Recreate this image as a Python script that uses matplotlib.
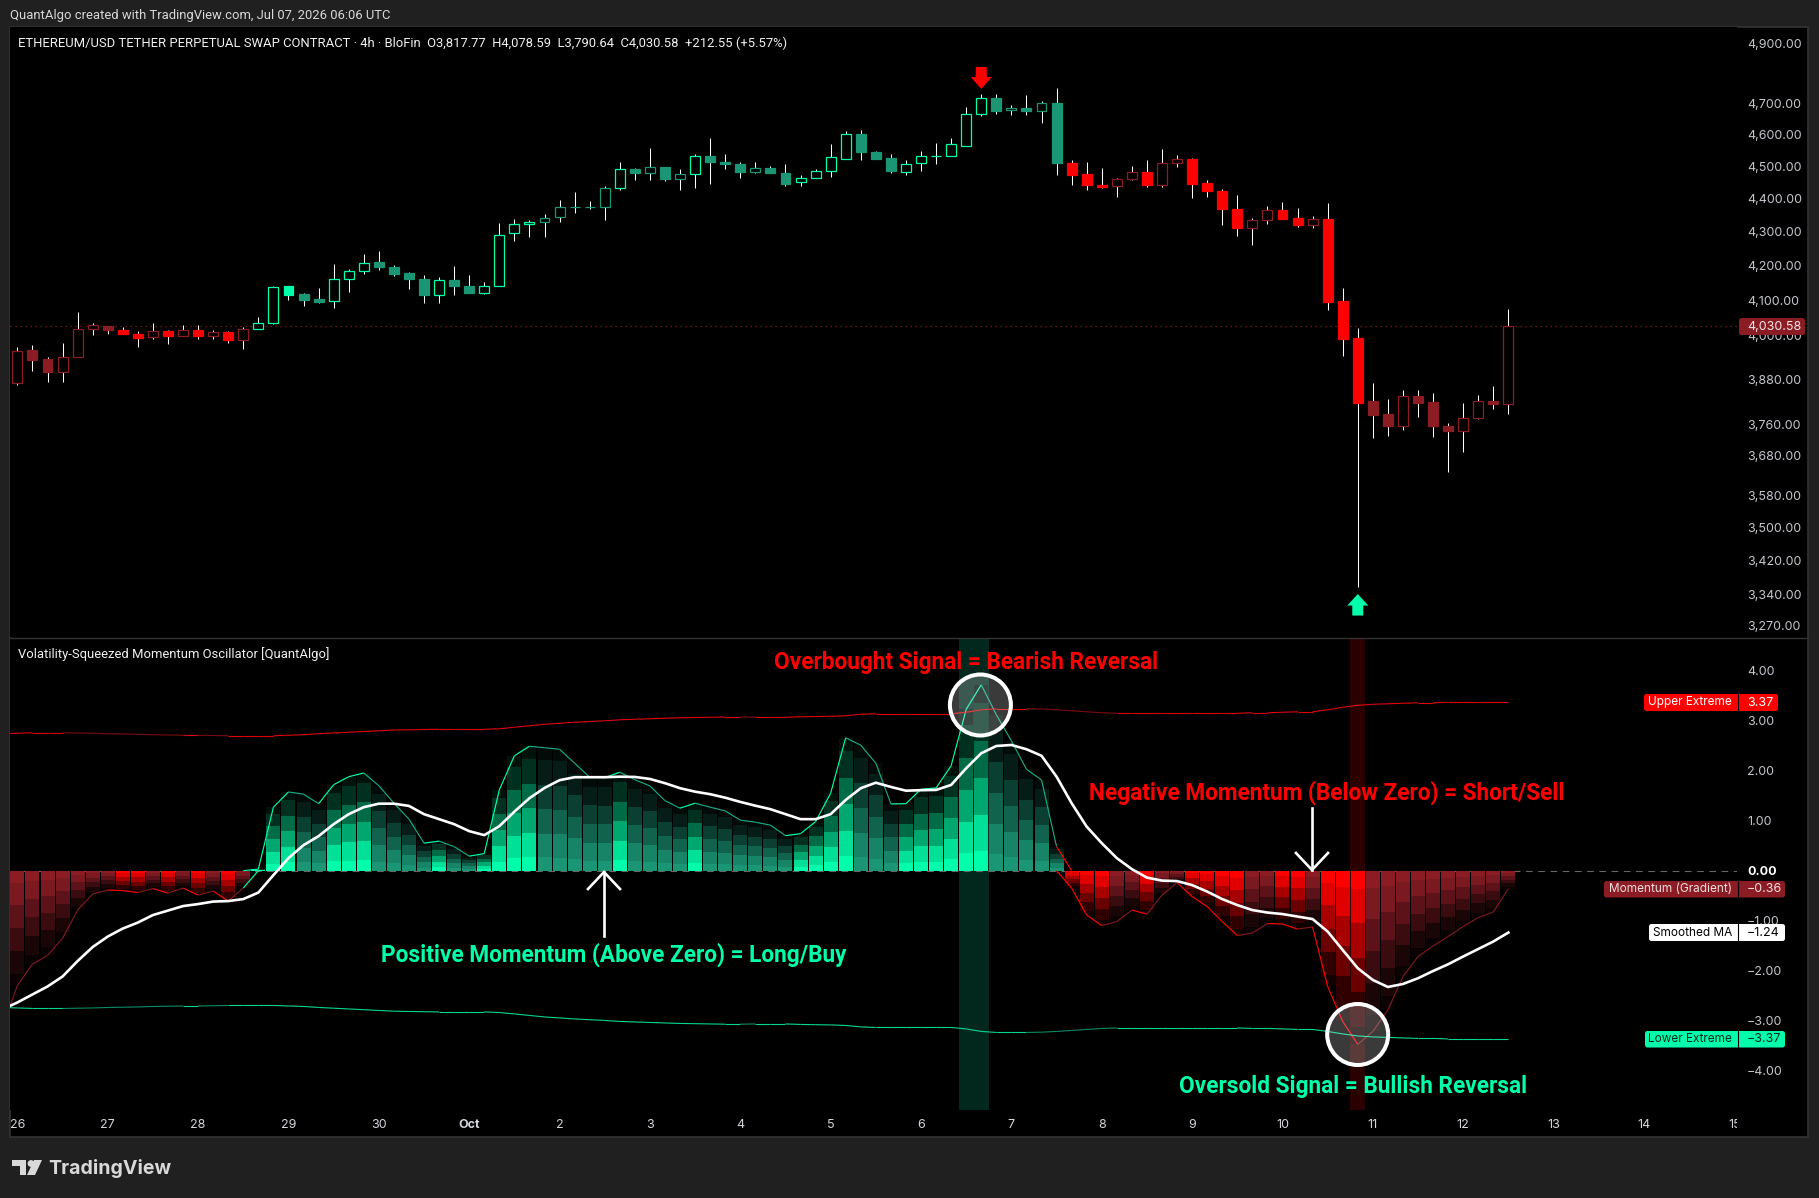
import numpy as np
import matplotlib
matplotlib.use("Agg")
import matplotlib.pyplot as plt
from matplotlib.collections import LineCollection
from matplotlib.patches import Circle, FancyBboxPatch, Polygon, Rectangle
from matplotlib.lines import Line2D
from matplotlib.ticker import NullLocator
from matplotlib.transforms import Affine2D, Bbox, IdentityTransform

# candles, 4h bars from 26 Sep
opens = [3874, 3964, 3939, 3904, 3945, 4023, 4031, 4020, 4009, 4000, 4017, 4003, 4020, 4003, 4014, 3992, 4023, 4039, 4145, 4121,
         4108, 4101, 4165, 4187, 4214, 4200, 4182, 4165, 4120, 4162, 4145, 4126, 4145, 4300, 4327, 4333, 4348, 4379, 4379, 4379,
         4436, 4496, 4484, 4503, 4465, 4480, 4538, 4519, 4512, 4486, 4500, 4484, 4455, 4467, 4489, 4529, 4608, 4550, 4531, 4486,
         4514, 4536, 4536, 4570, 4670, 4724, 4683, 4692, 4680, 4708, 4516, 4482, 4447, 4442, 4464, 4488, 4448, 4514, 4528, 4454,
         4429, 4372, 4315, 4339, 4371, 4346, 4324, 4343, 4102, 3998, 3827, 3793, 3760, 3840, 3824, 3761, 3747, 3780, 3827, 3817.77]
highs = [3973, 3979, 3945, 3983, 4071, 4040, 4031, 4029, 4017, 4040, 4021, 4034, 4034, 4021, 4018, 4028, 4057, 4146, 4145, 4125,
         4140, 4210, 4195, 4239, 4247, 4207, 4186, 4178, 4172, 4204, 4178, 4157, 4331, 4343, 4340, 4358, 4401, 4425, 4398, 4444,
         4518, 4500, 4563, 4503, 4497, 4544, 4595, 4544, 4519, 4519, 4506, 4513, 4478, 4497, 4576, 4618, 4621, 4553, 4544, 4525,
         4553, 4579, 4595, 4695, 4737, 4737, 4701, 4734, 4714, 4758, 4525, 4519, 4500, 4469, 4506, 4525, 4559, 4541, 4531, 4463,
         4433, 4416, 4346, 4383, 4395, 4377, 4352, 4392, 4140, 4026, 3875, 3832, 3856, 3856, 3848, 3767, 3821, 3843, 3867, 4078.59]
lows = [3868, 3908, 3876, 3876, 3945, 4005, 4008, 4008, 3974, 3996, 3982, 4003, 3996, 3996, 3985, 3966, 4023, 4036, 4106, 4089,
        4095, 4083, 4129, 4181, 4190, 4173, 4135, 4095, 4095, 4118, 4126, 4123, 4145, 4278, 4290, 4290, 4335, 4362, 4373, 4339,
        4432, 4461, 4463, 4458, 4430, 4436, 4451, 4495, 4467, 4483, 4483, 4442, 4442, 4467, 4470, 4529, 4526, 4529, 4483, 4476,
        4489, 4511, 4536, 4570, 4664, 4673, 4667, 4667, 4641, 4478, 4448, 4430, 4436, 4411, 4461, 4439, 4439, 4501, 4405, 4411,
        4323, 4293, 4266, 4329, 4343, 4317, 4314, 4075, 3949, 3363, 3728, 3733, 3749, 3785, 3731, 3641, 3694, 3778, 3805, 3790.64]
closes = [3963, 3938, 3903, 3944, 4023, 4033, 4019, 4008, 3999, 4017, 4002, 4019, 4002, 4014, 3991, 4023, 4039, 4142, 4120, 4106,
          4100, 4165, 4188, 4213, 4199, 4181, 4164, 4118, 4162, 4144, 4126, 4144, 4296, 4326, 4333, 4347, 4378, 4380, 4380, 4436,
          4496, 4483, 4502, 4464, 4481, 4537, 4517, 4511, 4486, 4499, 4483, 4451, 4468, 4490, 4533, 4607, 4551, 4529, 4489, 4512,
          4537, 4538, 4575, 4671, 4723, 4682, 4691, 4680, 4707, 4514, 4478, 4445, 4441, 4465, 4487, 4448, 4515, 4527, 4451, 4427,
          4372, 4314, 4339, 4370, 4343, 4323, 4342, 4100, 3996, 3822, 3790, 3760, 3839, 3822, 3760, 3747, 3780, 3826, 3819, 4030.58]

# oscillator, one extra leading value for the bar just left of the chart
momentum = [-3.14, -2.30, -1.87, -1.70, -1.355, -0.79, -0.47, -0.39, -0.40, -0.44, -0.36, -0.45, -0.35, -0.49, -0.41, -0.61, -0.35,
            0.03, 1.27, 1.575, 1.53, 1.34, 1.72, 1.88, 1.955, 1.70, 1.35, 1.03, 0.55, 0.59, 0.48, 0.29, 0.34, 1.615, 2.30, 2.49,
            2.46, 2.43, 2.15, 1.87, 1.86, 1.97, 1.82, 1.695, 1.40, 1.25, 1.35, 1.27, 1.195, 1.01, 0.97, 0.91, 0.70, 0.74, 0.98,
            1.55, 2.66, 2.51, 2.15, 1.335, 1.34, 1.63, 1.655, 2.10, 3.23, 3.72, 3.12, 2.60, 2.03, 1.815, 0.48, -0.35, -0.89, -1.10,
            -1.02, -0.79, -0.87, -0.49, -0.24, -0.52, -0.72, -1.02, -1.30, -1.25, -1.06, -1.07, -1.17, -1.13, -2.32, -3.02, -3.48,
            -3.22, -2.79, -2.12, -1.72, -1.51, -1.32, -1.12, -0.94, -0.83, -0.36]
smoothed_ma = [-2.78, -2.64, -2.48, -2.32, -2.12, -1.81, -1.53, -1.32, -1.16, -1.04, -0.89, -0.80, -0.71, -0.67, -0.62, -0.61, -0.57,
               -0.44, -0.09, 0.25, 0.51, 0.69, 0.93, 1.13, 1.27, 1.34, 1.34, 1.295, 1.13, 1.03, 0.93, 0.79, 0.71, 0.89, 1.18, 1.45,
               1.655, 1.81, 1.87, 1.87, 1.87, 1.88, 1.875, 1.835, 1.75, 1.65, 1.58, 1.53, 1.46, 1.375, 1.30, 1.23, 1.13, 1.03, 1.03,
               1.13, 1.415, 1.65, 1.76, 1.675, 1.60, 1.61, 1.615, 1.715, 2.05, 2.35, 2.495, 2.515, 2.43, 2.30, 1.88, 1.35, 0.88, 0.55,
               0.25, 0.03, -0.14, -0.20, -0.21, -0.29, -0.42, -0.57, -0.69, -0.79, -0.84, -0.87, -0.92, -0.97, -1.22, -1.59, -1.955,
               -2.19, -2.33, -2.27, -2.155, -2.01, -1.875, -1.72, -1.57, -1.42, -1.24]
upper_extreme = [2.74, 2.75, 2.76, 2.76, 2.76, 2.755, 2.75, 2.74, 2.735, 2.73, 2.72, 2.715, 2.71, 2.71, 2.705, 2.70, 2.70, 2.70, 2.70,
                 2.71, 2.72, 2.74, 2.755, 2.77, 2.785, 2.80, 2.815, 2.82, 2.825, 2.83, 2.83, 2.83, 2.83, 2.84, 2.87, 2.90, 2.93,
                 2.95, 2.97, 2.985, 3.00, 3.02, 3.03, 3.04, 3.05, 3.06, 3.065, 3.07, 3.075, 3.075, 3.07, 3.07, 3.07, 3.08, 3.085,
                 3.09, 3.10, 3.13, 3.14, 3.14, 3.14, 3.14, 3.14, 3.14, 3.17, 3.22, 3.24, 3.24, 3.24, 3.235, 3.22, 3.20, 3.18, 3.16,
                 3.15, 3.15, 3.15, 3.15, 3.15, 3.15, 3.15, 3.15, 3.15, 3.16, 3.16, 3.17, 3.18, 3.18, 3.22, 3.27, 3.31, 3.33, 3.34,
                 3.35, 3.36, 3.36, 3.37, 3.37, 3.37, 3.37, 3.37]

price_ticks = [4900, 4700, 4600, 4500, 4400, 4300, 4200, 4100, 4000, 3880, 3760, 3680, 3580, 3500, 3420, 3340, 3270]
osc_ticks = [4, 3, 2, 1, 0, -1, -2, -3, -4]
day_labels = ["26", "27", "28", "29", "30", "Oct", "2", "3", "4", "5", "6", "7", "8", "9", "10", "11", "12", "13", "14", "15"]
overbought_bar = 64
oversold_bar = 89

W, H = 1819, 1198
BG = "#202020"
GREEN, TEAL = "#00ffaa", "#1b9675"
RED, DARK_RED = "#ff0000", "#8b1c24"
AXIS_TEXT = "#c4c6cc"
SHADES = [1.0, 0.88, 0.66, 0.42, 0.19, 0.07]
FRACTIONS = [0.0, 0.107, 0.30, 0.50, 0.70, 0.90, 1.0]

plt.rcParams["font.family"] = ["Inter", "DejaVu Sans"]
plt.rcParams["axes.unicode_minus"] = True

fig = plt.figure(figsize=(W / 100, H / 100), dpi=100, facecolor=BG)


def axes_px(left, top, right, bottom):
    return fig.add_axes([left / W, 1 - bottom / H, (right - left) / W, (bottom - top) / H])


def label(x, y, s, **kw):
    kw.setdefault("va", "center")
    return fig.text(x / W, 1 - y / H, s, **kw)


def tag(x0, y0, x1, y1, color):
    fig.add_artist(FancyBboxPatch((x0, H - y1), x1 - x0, y1 - y0, boxstyle="round,pad=0,rounding_size=2.5",
                                  transform=IdentityTransform(), fc=color, ec="none", zorder=5))


fig.add_artist(Rectangle((10, H - 1137), 1798, 1110, transform=IdentityTransform(), fc="black", ec="#333333", lw=1.2, zorder=-1))

ax = axes_px(10, 27, 1737, 637)
osc = axes_px(10, 638, 1737, 1110)
for a in (ax, osc):
    a.set_facecolor("black")
    a.set_xlim(-0.491, 114.18)
    for s in a.spines.values():
        s.set_visible(False)
    a.yaxis.tick_right()
    a.tick_params(axis="both", length=0, labelcolor=AXIS_TEXT, labelsize=9.0)
    a.tick_params(axis="y", pad=7.2)

v = np.array(momentum)
dv = np.diff(v)
v_now = v[1:]
bright = ((v_now > 0) & (dv >= 0)) | ((v_now < 0) & (dv <= 0))
bar_colors = [(GREEN if b else TEAL) if m > 0 else (RED if b else DARK_RED) for m, b in zip(v_now, bright)]

# price pane
ax.set_yscale("log")
ax.set_ylim(3247, 4963)
x = np.arange(len(closes))
ax.vlines(x, lows, highs, color="white", lw=0.75, zorder=2)
for i in x:
    up = closes[i] > opens[i]
    ax.bar(i, abs(closes[i] - opens[i]), bottom=min(opens[i], closes[i]), width=0.66,
           facecolor="black" if up else bar_colors[i], edgecolor=bar_colors[i], lw=0.9, zorder=3)
ax.axhline(closes[-1], color=DARK_RED, lw=0.9, ls=(0, (1, 3)), zorder=1)
ax.yaxis.set_minor_locator(NullLocator())
ax.set_yticks(price_ticks)
ax.set_yticklabels([f"{p:,.2f}" for p in price_ticks])
ax.yaxis.set_minor_locator(NullLocator())
ax.set_xticks([])
for lbl in ax.get_yticklabels():
    lbl.set_transform(lbl.get_transform() + Affine2D().translate(0, 1.5))

# signal arrows sit next to the candle that fired
sx, sy = ax.transData.transform((overbought_bar, highs[overbought_bar]))
ax.add_patch(Polygon([(sx - 5.5, sy + 27), (sx + 5.5, sy + 27), (sx + 5.5, sy + 17), (sx + 10.5, sy + 17), (sx, sy + 5),
                      (sx - 10.5, sy + 17), (sx - 5.5, sy + 17)], transform=IdentityTransform(), fc=RED, ec="none", zorder=4))
sx, sy = ax.transData.transform((oversold_bar, lows[oversold_bar]))
ax.add_patch(Polygon([(sx - 5.5, sy - 29), (sx + 5.5, sy - 29), (sx + 5.5, sy - 19), (sx + 10.5, sy - 19), (sx, sy - 7.5),
                      (sx - 10.5, sy - 19), (sx - 5.5, sy - 19)], transform=IdentityTransform(), fc=GREEN, ec="none", zorder=4))

# oscillator pane
osc.set_ylim(-4.793, 4.657)
osc_x = np.arange(-1, len(closes))
osc.axvspan(overbought_bar - 1.5, overbought_bar + 0.5, color="#02281d", lw=0, zorder=0)
osc.axvspan(oversold_bar - 0.5, oversold_bar + 0.5, color="#2a0000", lw=0, zorder=0)
osc.axhline(0, color="#666666", lw=0.8, ls=(0, (6, 5)), zorder=1)

all_colors = [DARK_RED] + bar_colors
for i, val in zip(osc_x, v):
    rgb = np.array(matplotlib.colors.to_rgb(all_colors[i + 1]))
    for k, shade in enumerate(SHADES):
        osc.bar(i, val * (FRACTIONS[k + 1] - FRACTIONS[k]), bottom=val * FRACTIONS[k], width=0.93,
                color=rgb * shade, lw=0, zorder=2)

line_colors = {True: {True: GREEN, False: "#19a884"}, False: {True: RED, False: "#7d1a20"}}
pos, neg = np.maximum(v, 0), np.minimum(v, 0)
segs, cols = [], []
for s in (pos, neg):
    for i in range(1, len(v)):
        if s[i] == 0 and s[i - 1] == 0:
            continue
        segs.append([(osc_x[i - 1], s[i - 1]), (osc_x[i], s[i])])
        cols.append(line_colors[bool(v[i] > 0)][bool(bright[i - 1])])
osc.add_collection(LineCollection(segs, colors=cols, lw=0.85, zorder=3), autolim=False)

up_arr = np.array(upper_extreme)
rising = np.diff(up_arr) >= 0
osc.add_collection(LineCollection([[(osc_x[i], up_arr[i]), (osc_x[i + 1], up_arr[i + 1])] for i in range(len(rising))],
                                  colors=["#e00008" if r else "#7d0a10" for r in rising], lw=0.8, zorder=3), autolim=False)
osc.add_collection(LineCollection([[(osc_x[i], -up_arr[i]), (osc_x[i + 1], -up_arr[i + 1])] for i in range(len(rising))],
                                  colors=["#00d890" if r else "#0c8a66" for r in rising], lw=0.8, zorder=3), autolim=False)
osc.plot(osc_x, smoothed_ma, color="white", lw=1.9, zorder=4)

osc.set_yticks(osc_ticks)
osc.set_yticklabels([f"{t:.2f}".replace("-", "\u2212") for t in osc_ticks])
for lbl, t in zip(osc.get_yticklabels(), osc_ticks):
    if t == 0:
        lbl.set_fontweight("bold")
        lbl.set_color("white")
osc.set_xticks(np.arange(len(day_labels)) * 6)
osc.set_xticklabels(day_labels)
osc.tick_params(axis="x", pad=6.2, labelcolor="#d4d6dc")
for lbl in osc.get_xticklabels():
    lbl.set_clip_box(Bbox([[10, 0], [1737, H]]))
    lbl.set_clip_on(True)
    if lbl.get_text() == "Oct":
        lbl.set_fontweight("bold")

# separator between panes
fig.add_artist(Line2D([10 / W, 1808 / W], [1 - 637.5 / H] * 2, color="#333333", lw=1, zorder=3))

# header texts
ui = dict(family=["Roboto", "DejaVu Sans"], fontsize=9.4)
label(10, 15.5, "QuantAlgo created with TradingView.com, Jul 07, 2026 06:06 UTC", color="#d8d8d8", **ui)
label(18, 43, "ETHEREUM/USD TETHER PERPETUAL SWAP CONTRACT \u00b7 4h \u00b7 BloFin  O3,817.77  H4,078.59  L3,790.64  C4,030.58  +212.55 (+5.57%)",
      color="#f0f0f0", **ui)
label(18, 654, "Volatility-Squeezed Momentum Oscillator [QuantAlgo]", color="#f0f0f0", **ui)

# call-outs
bold = dict(family=["Roboto", "DejaVu Sans"], fontweight="bold", fontsize=16.3, ha="center")
label(966.5, 662, "Overbought Signal = Bearish Reversal", color=RED, **bold)
label(1327, 792.5, "Negative Momentum (Below Zero) = Short/Sell", color=RED, **bold)
label(614, 955, "Positive Momentum (Above Zero) = Long/Buy", color=GREEN, **bold)
label(1353, 1086, "Oversold Signal = Bullish Reversal", color=GREEN, **bold)


def thin_arrow(px, y_tail, y_tip, head_dy):
    for xs, ys in (([px, px], [y_tail, y_tip]), ([px - 16, px, px + 16], [y_tip + head_dy, y_tip, y_tip + head_dy])):
        fig.add_artist(Line2D([q / W for q in xs], [1 - q / H for q in ys], color="white", lw=1.9, zorder=6,
                              solid_joinstyle="miter"))


thin_arrow(604, 935.5, 872, 17)
thin_arrow(1312, 808, 870, -17)

for cx, cy in ((980.4, 705), (1357.7, 1034.5)):
    fig.add_artist(Circle((cx, H - cy), 30.5, transform=IdentityTransform(), fc=(1, 1, 1, 0.23), ec="white", lw=2.9, zorder=6))

# value tags on the right edge
tag(1739, 318, 1805, 335, DARK_RED)
label(1747, 326.5, "4,030.58", color="#f4e6e6", fontsize=9.0, zorder=7)
tags = [(694, 711, 1644, 1778, RED, "white", "Upper Extreme", "3.37"),
        (881, 897.5, 1604, 1785, DARK_RED, "#f0dede", "Momentum (Gradient)", "\u22120.36"),
        (924, 941, 1649, 1785, "white", "black", "Smoothed MA", "\u22121.24"),
        (1031, 1047.5, 1645, 1785, GREEN, "#04291e", "Lower Extreme", "\u22123.37")]
for y0, y1, x0, x1, c, tc, name, val in tags:
    tag(x0, y0, x1, y1, c)
    fig.add_artist(Line2D([1737.5 / W] * 2, [1 - y0 / H, 1 - y1 / H], color="black", lw=0.8, zorder=6))
    label(1732, (y0 + y1) / 2, name, color=tc, fontsize=8.5, ha="right", zorder=7)
    label(1747, (y0 + y1) / 2, val, color=tc, fontsize=9.0, zorder=7)

# TradingView logo
logo = "#d9d9d9"
fig.add_artist(Polygon([(12, H - 1160), (26, H - 1160), (26, H - 1175), (20, H - 1175), (20, H - 1166), (12, H - 1166)],
                       transform=IdentityTransform(), fc=logo, ec="none"))
fig.add_artist(Circle((31, H - 1163.5), 3.4, transform=IdentityTransform(), fc=logo, ec="none"))
fig.add_artist(Polygon([(34, H - 1160), (42, H - 1160), (35, H - 1175), (27, H - 1175)], transform=IdentityTransform(), fc=logo, ec="none"))
label(48, 1169, "TradingView", color=logo, fontsize=14.1, fontweight="bold")

fig.savefig("out.png", dpi=100, facecolor=BG)
